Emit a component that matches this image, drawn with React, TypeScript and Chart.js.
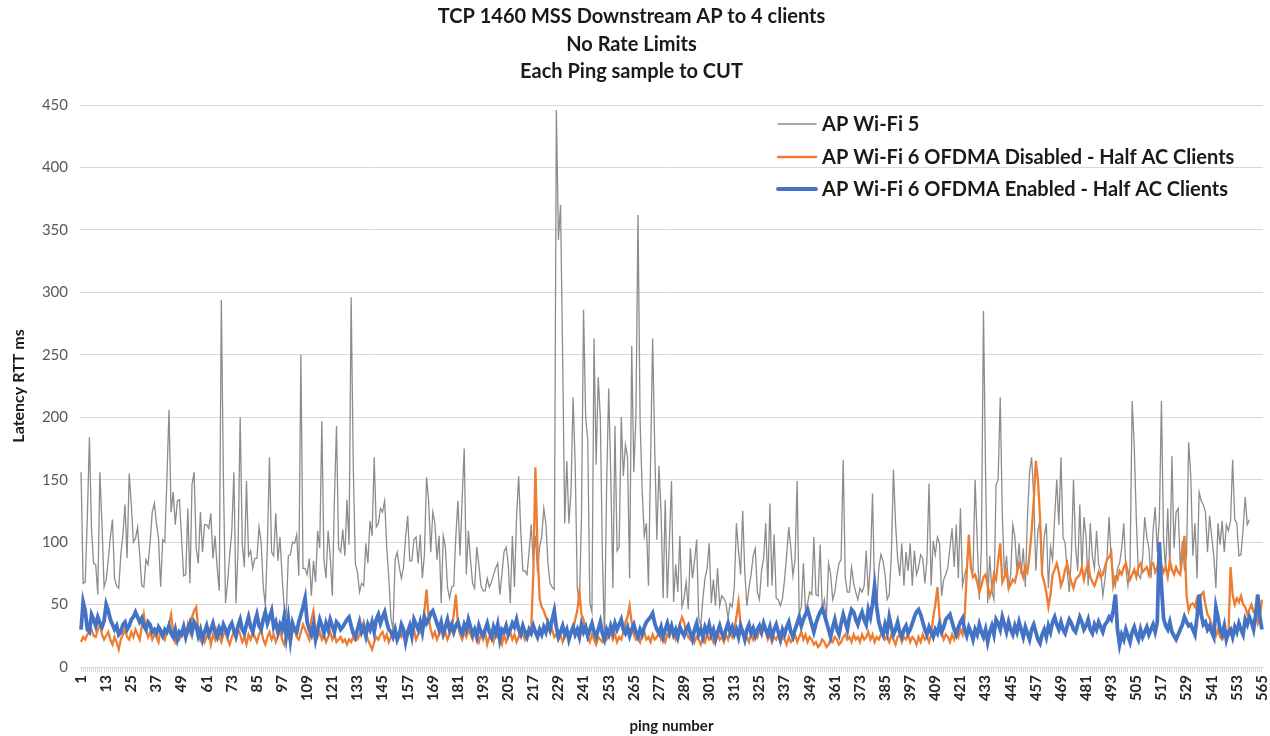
import React, { useEffect, useRef } from 'react';
import { Chart, registerables } from 'chart.js';

Chart.register(...registerables);

const TITLE_LINES = ['TCP 1460 MSS Downstream AP to 4 clients', 'No Rate Limits', 'Each Ping sample to CUT'];
const SERIES_NAMES = [
  'AP Wi-Fi 5',
  'AP Wi-Fi 6 OFDMA Disabled - Half AC Clients',
  'AP Wi-Fi 6 OFDMA Enabled - Half AC Clients',
];
const Y_TITLE = 'Latency RTT ms';
const X_TITLE = 'ping number';
const PING_COUNT = 565;
const pingNumbers: string[] = Array.from({ length: PING_COUNT }, (_, i) => String(i + 1));

// AP Wi-Fi 5 (ends at ping 559)
const wifi5: number[] = [
  156, 67, 68, 120, 184, 110, 83, 82, 58, 156, 114, 64,
  70, 86, 104, 118, 71, 65, 63, 90, 106, 130, 87, 155,
  130, 100, 103, 112, 90, 65, 64, 86, 82, 100, 124, 131,
  115, 103, 64, 102, 100, 150, 206, 124, 140, 114, 133, 134,
  103, 73, 74, 127, 67, 146, 156, 95, 83, 124, 92, 114,
  114, 111, 123, 87, 105, 80, 61, 294, 150, 51, 68, 90,
  109, 156, 51, 95, 200, 99, 80, 149, 89, 93, 79, 87,
  87, 112, 100, 65, 49, 98, 168, 92, 89, 123, 85, 104,
  73, 48, 42, 89, 90, 100, 99, 106, 73, 250, 79, 79,
  74, 87, 57, 85, 68, 109, 95, 197, 86, 71, 109, 89,
  57, 134, 193, 95, 92, 110, 89, 134, 98, 296, 162, 83,
  76, 60, 67, 65, 99, 83, 117, 105, 168, 112, 115, 127,
  124, 133, 96, 71, 39, 30, 86, 92, 80, 71, 80, 104,
  121, 85, 85, 102, 104, 83, 106, 71, 90, 152, 133, 92,
  124, 115, 86, 105, 51, 105, 96, 64, 55, 64, 65, 105,
  133, 89, 134, 175, 74, 109, 86, 67, 63, 96, 82, 65,
  61, 61, 71, 64, 68, 74, 79, 83, 58, 74, 92, 96,
  83, 51, 105, 64, 120, 153, 109, 77, 77, 74, 93, 114,
  83, 105, 76, 96, 104, 127, 115, 83, 67, 64, 62, 446,
  342, 370, 250, 115, 165, 115, 140, 216, 162, 63, 49, 120,
  286, 200, 182, 51, 44, 263, 162, 232, 200, 89, 22, 144,
  223, 153, 63, 193, 93, 96, 200, 153, 178, 168, 71, 257,
  156, 200, 362, 197, 141, 105, 115, 65, 165, 263, 174, 102,
  161, 124, 55, 134, 55, 101, 149, 52, 82, 60, 105, 48,
  55, 68, 46, 95, 71, 85, 102, 39, 33, 55, 71, 79,
  99, 51, 70, 49, 79, 49, 57, 55, 51, 39, 51, 48,
  64, 115, 93, 74, 125, 76, 49, 63, 74, 89, 95, 60,
  54, 77, 87, 115, 64, 131, 65, 106, 55, 54, 49, 55,
  70, 90, 112, 95, 73, 86, 149, 42, 48, 83, 45, 51,
  60, 58, 104, 58, 57, 98, 46, 54, 39, 83, 74, 54,
  60, 73, 83, 86, 166, 71, 60, 60, 80, 67, 60, 54,
  63, 60, 65, 93, 57, 83, 139, 60, 48, 79, 90, 85,
  74, 54, 58, 89, 158, 115, 87, 73, 99, 65, 92, 77,
  99, 65, 93, 74, 80, 90, 87, 67, 86, 147, 65, 101,
  90, 104, 99, 57, 70, 74, 80, 96, 111, 80, 114, 71,
  127, 65, 74, 80, 102, 80, 77, 150, 101, 54, 95, 285,
  156, 51, 89, 61, 54, 146, 150, 216, 121, 74, 89, 63,
  74, 114, 104, 77, 99, 74, 95, 64, 120, 156, 168, 136,
  77, 109, 118, 74, 104, 115, 63, 96, 86, 120, 150, 114,
  168, 104, 99, 76, 60, 90, 150, 96, 77, 130, 77, 120,
  104, 65, 115, 89, 79, 109, 82, 77, 57, 70, 87, 120,
  86, 74, 65, 79, 83, 95, 115, 79, 65, 80, 213, 177,
  118, 74, 71, 87, 120, 104, 95, 71, 109, 128, 92, 118,
  213, 102, 77, 127, 77, 169, 95, 124, 127, 80, 101, 77,
  90, 180, 153, 89, 115, 71, 140, 133, 130, 124, 92, 121,
  104, 89, 63, 115, 98, 117, 92, 114, 109, 117, 166, 118,
  115, 89, 90, 111, 136, 114, 118,
];

// AP Wi-Fi 6 OFDMA Disabled - Half AC Clients
const ofdmaDisabled: number[] = [
  20, 24, 22, 26, 28, 30, 25, 24, 30, 34, 26, 22,
  25, 28, 22, 18, 24, 20, 14, 22, 26, 30, 24, 22,
  28, 24, 30, 26, 22, 32, 42, 30, 24, 28, 22, 26,
  24, 20, 30, 26, 22, 28, 34, 42, 28, 20, 24, 22,
  26, 30, 24, 34, 28, 40, 45, 48, 30, 22, 26, 20,
  24, 28, 18, 26, 22, 30, 24, 20, 26, 28, 22, 18,
  24, 28, 22, 30, 26, 20, 24, 18, 26, 22, 28, 24,
  20, 26, 30, 22, 18, 24, 28, 22, 26, 20, 24, 30,
  22, 18, 26, 24, 20, 28, 30, 24, 22, 28, 34, 30,
  26, 22, 38, 45, 30, 24, 28, 22, 26, 20, 24, 28,
  22, 26, 20, 22, 24, 20, 22, 18, 22, 20, 24, 21,
  22, 26, 30, 36, 28, 22, 18, 14, 20, 24, 22, 26,
  28, 22, 26, 20, 24, 30, 28, 22, 26, 24, 30, 22,
  26, 28, 24, 30, 22, 26, 28, 34, 45, 62, 40, 30,
  24, 28, 22, 26, 30, 24, 28, 22, 26, 30, 42, 58,
  35, 26, 22, 28, 24, 30, 26, 22, 28, 24, 20, 26,
  22, 28, 18, 24, 26, 20, 28, 24, 22, 18, 26, 20,
  24, 28, 22, 26, 20, 24, 30, 26, 22, 28, 26, 30,
  75, 160, 95, 55, 48, 45, 40, 36, 28, 30, 24, 26,
  22, 26, 20, 24, 28, 22, 26, 30, 38, 45, 60, 42,
  38, 28, 24, 20, 26, 22, 18, 24, 22, 20, 26, 22,
  24, 28, 22, 26, 20, 24, 22, 28, 36, 40, 49, 35,
  26, 22, 24, 20, 26, 28, 22, 24, 20, 26, 22, 24,
  28, 22, 24, 20, 26, 24, 30, 26, 22, 28, 34, 40,
  36, 28, 24, 22, 26, 20, 24, 22, 18, 24, 20, 26,
  22, 24, 20, 26, 28, 22, 24, 20, 26, 22, 28, 24,
  30, 40, 52, 34, 26, 22, 24, 20, 26, 22, 28, 24,
  30, 26, 33, 28, 22, 26, 20, 24, 22, 26, 20, 24,
  22, 18, 24, 20, 22, 26, 20, 24, 28, 22, 26, 20,
  24, 22, 18, 20, 16, 18, 22, 20, 16, 18, 22, 20,
  24, 22, 18, 20, 24, 26, 22, 24, 20, 26, 22, 24,
  20, 26, 22, 24, 28, 22, 26, 20, 24, 22, 26, 28,
  22, 24, 20, 26, 22, 18, 24, 26, 20, 24, 22, 26,
  20, 24, 22, 18, 24, 20, 26, 22, 24, 20, 26, 40,
  50, 64, 40, 28, 22, 26, 24, 20, 26, 22, 28, 24,
  30, 26, 40, 75, 106, 80, 72, 74, 68, 60, 65, 72,
  74, 66, 57, 62, 74, 70, 85, 99, 68, 72, 77, 63,
  66, 70, 68, 75, 83, 78, 72, 80, 76, 90, 109, 133,
  165, 150, 120, 74, 68, 60, 48, 58, 74, 78, 83, 76,
  65, 70, 78, 83, 74, 68, 63, 70, 72, 74, 80, 70,
  78, 83, 72, 68, 65, 70, 76, 72, 74, 80, 86, 88,
  92, 65, 72, 70, 77, 74, 80, 83, 76, 70, 74, 78,
  72, 80, 83, 76, 78, 80, 74, 82, 83, 76, 80, 86,
  82, 76, 80, 72, 85, 78, 74, 80, 76, 74, 90, 105,
  57, 45, 50, 51, 48, 55, 52, 58, 60, 50, 42, 39,
  34, 28, 25, 30, 24, 22, 26, 24, 25, 80, 58, 50,
  55, 52, 57, 50, 48, 42, 46, 50, 44, 45, 35, 40, 54,
];

// AP Wi-Fi 6 OFDMA Enabled - Half AC Clients
const ofdmaEnabled: number[] = [
  30, 52, 45, 30, 28, 42, 38, 33, 40, 35, 32, 37,
  50, 45, 38, 34, 30, 33, 26, 28, 34, 36, 30, 33,
  38, 40, 44, 40, 36, 39, 33, 30, 36, 34, 28, 30,
  27, 32, 29, 25, 30, 28, 33, 27, 24, 30, 22, 28,
  26, 32, 24, 30, 35, 28, 36, 33, 25, 30, 22, 28,
  33, 26, 30, 35, 28, 24, 31, 27, 34, 30, 26, 32,
  35, 29, 25, 33, 38, 30, 27, 34, 40, 32, 28, 36,
  42, 33, 30, 38, 44, 35, 40, 45, 32, 36, 28, 34,
  30, 40, 25, 38, 22, 35, 30, 28, 36, 42, 48, 55,
  36, 30, 26, 34, 22, 30, 38, 33, 27, 35, 30, 38,
  33, 28, 36, 34, 30, 32, 35, 38, 40, 33, 27, 24,
  30, 36, 28, 32, 25, 34, 30, 36, 28, 38, 42, 35,
  40, 44, 36, 30, 28, 24, 30, 22, 26, 34, 30, 20,
  28, 33, 25, 38, 34, 30, 36, 28, 40, 35, 38, 43,
  45, 40, 35, 30, 36, 27, 32, 38, 30, 34, 28, 33,
  36, 30, 27, 34, 30, 38, 32, 26, 30, 24, 33, 28,
  25, 30, 35, 28, 24, 32, 27, 34, 22, 30, 28, 33,
  26, 30, 35, 32, 38, 30, 26, 33, 28, 24, 30, 27,
  33, 28, 24, 30, 26, 32, 28, 35, 30, 38, 45, 32,
  24, 28, 33, 26, 30, 22, 28, 32, 26, 30, 24, 34,
  28, 32, 25, 30, 35, 28, 24, 30, 36, 27, 22, 30,
  26, 33, 28, 35, 30, 34, 38, 30, 27, 32, 25, 30,
  34, 28, 24, 30, 26, 32, 36, 38, 40, 43, 35, 30,
  27, 32, 24, 30, 35, 28, 33, 26, 30, 24, 32, 28,
  25, 30, 33, 27, 22, 30, 35, 26, 30, 24, 32, 28,
  34, 26, 30, 22, 28, 33, 27, 24, 30, 35, 28, 32,
  26, 30, 24, 33, 28, 22, 30, 34, 27, 31, 25, 30,
  33, 28, 35, 30, 26, 32, 24, 30, 34, 28, 22, 30,
  26, 32, 36, 28, 24, 30, 35, 40, 33, 38, 42, 46,
  40, 34, 28, 35, 40, 44, 47, 42, 36, 30, 24, 32,
  38, 30, 26, 35, 42, 36, 30, 40, 46, 44, 38, 34,
  40, 44, 38, 34, 46, 40, 50, 65, 48, 36, 30, 26,
  34, 28, 40, 32, 26, 30, 36, 28, 24, 30, 33, 27,
  30, 35, 40, 44, 46, 42, 36, 30, 26, 32, 28, 24,
  30, 27, 34, 28, 32, 38, 40, 42, 36, 30, 26, 32,
  36, 39, 30, 25, 32, 28, 22, 30, 26, 34, 28, 24,
  30, 20, 28, 33, 26, 38, 35, 30, 40, 34, 28, 36,
  30, 26, 33, 28, 36, 30, 24, 32, 27, 22, 30, 34,
  28, 22, 19, 26, 30, 24, 33, 28, 36, 40, 34, 30,
  36, 30, 27, 33, 38, 35, 30, 28, 34, 40, 36, 30,
  33, 38, 30, 27, 34, 30, 36, 32, 28, 34, 36, 40,
  38, 45, 58, 30, 18, 26, 22, 30, 25, 20, 28, 32,
  26, 22, 30, 24, 28, 32, 26, 30, 34, 28, 36, 100,
  65, 39, 33, 30, 36, 28, 25, 22, 26, 30, 34, 40,
  36, 33, 34, 30, 26, 40, 58, 42, 34, 36, 30, 33,
  28, 24, 48, 40, 30, 26, 33, 22, 28, 30, 24, 32,
  28, 35, 30, 26, 38, 34, 40, 36, 30, 42, 58, 40, 30,
];

const Y_MIN = 0;
const Y_MAX = 450;
const Y_STEP = 50;
const LABEL_EVERY = 12;

const FONT = 'Lato, "Open Sans", sans-serif';

const insideLegend = {
  id: 'insideLegend',
  afterDraw(chart: any) {
    const ctx = chart.ctx as CanvasRenderingContext2D;
    const x0 = 778;
    const ys = [124, 157, 189];
    ctx.save();
    chart.data.datasets.forEach((ds: any, i: number) => {
      const y = ys[i];
      ctx.strokeStyle = ds.borderColor;
      ctx.lineWidth = ds.borderWidth;
      ctx.lineCap = 'round';
      ctx.beginPath();
      ctx.moveTo(x0, y);
      ctx.lineTo(x0 + 38, y);
      ctx.stroke();
      ctx.fillStyle = '#1a1a1a';
      ctx.font = `bold 20px ${FONT}`;
      ctx.textBaseline = 'middle';
      ctx.textAlign = 'left';
      ctx.fillText(ds.label, x0 + 44, y + 1);
    });
    ctx.restore();
  },
};

export default function App() {
  const canvasRef = useRef<HTMLCanvasElement | null>(null);

  useEffect(() => {
    document.body.style.margin = '0';
    const canvas = canvasRef.current;
    if (!canvas) return;
    const chart = new Chart(canvas, {
      type: 'line',
      data: {
        labels: pingNumbers,
        datasets: [
          {
            label: SERIES_NAMES[0],
            data: wifi5,
            borderColor: '#8c8c8c',
            borderWidth: 1.3,
            pointRadius: 0,
            tension: 0,
            order: 3,
          },
          {
            label: SERIES_NAMES[1],
            data: ofdmaDisabled,
            borderColor: '#ed7d31',
            borderWidth: 2.3,
            pointRadius: 0,
            tension: 0,
            order: 2,
          },
          {
            label: SERIES_NAMES[2],
            data: ofdmaEnabled,
            borderColor: '#4472c4',
            borderWidth: 3.8,
            pointRadius: 0,
            tension: 0,
            order: 1,
          },
        ],
      },
      options: {
        responsive: false,
        animation: false,
        devicePixelRatio: 1,
        layout: { padding: { left: 0, right: 7, top: 0, bottom: 0 } },
        plugins: {
          legend: { display: false },
          tooltip: { enabled: false },
          title: {
            display: true,
            text: TITLE_LINES,
            color: '#1a1a1a',
            font: { family: FONT, size: 20, weight: 'bold', lineHeight: '27.5px' },
            padding: { top: 3, bottom: 19.5 },
          },
        },
        scales: {
          x: {
            offset: true,
            ticks: {
              autoSkip: false,
              maxRotation: 90,
              minRotation: 90,
              color: '#262626',
              font: { family: FONT, size: 15, weight: 'bold' },
              padding: 3,
              callback: (_v: any, i: number) => (i % LABEL_EVERY === 0 ? pingNumbers[i] : ''),
            },
            grid: { display: true, drawOnChartArea: false, tickLength: 5, color: '#d9d9d9' },
            border: { color: '#d9d9d9' },
            title: {
              display: true,
              text: X_TITLE,
              color: '#1a1a1a',
              font: { family: FONT, size: 15, weight: 'bold' },
              padding: { top: 2, bottom: 1 },
            },
            afterFit: (s: any) => {
              s.height = 69;
              s.paddingLeft = 0;
              s.paddingRight = 0;
            },
          },
          y: {
            min: Y_MIN,
            max: Y_MAX,
            ticks: {
              stepSize: Y_STEP,
              color: '#595959',
              font: { family: FONT, size: 15 },
              padding: 12,
            },
            grid: { color: '#d9d9d9', drawTicks: false },
            border: { display: false },
            title: {
              display: true,
              text: Y_TITLE,
              color: '#1a1a1a',
              font: { family: FONT, size: 16, weight: 'bold' },
              padding: { top: 9, bottom: 0 },
            },
            afterFit: (s: any) => {
              s.width = 80;
            },
          },
        },
      },
      plugins: [insideLegend],
    } as any);
    return () => chart.destroy();
  }, []);

  return <canvas ref={canvasRef} width={1270} height={736} style={{ display: 'block' }} />;
}
